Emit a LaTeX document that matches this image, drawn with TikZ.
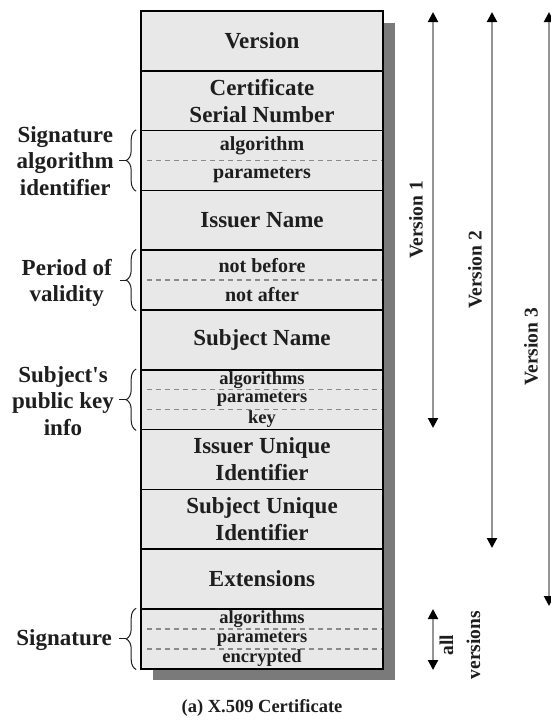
\documentclass[tikz,border=0pt]{standalone}
\usepackage{fontspec}
\setmainfont{Liberation Serif}
\usetikzlibrary{arrows.meta,decorations.pathreplacing}
\definecolor{cellgray}{HTML}{E8E8E8}
\definecolor{shadowgray}{HTML}{7A7A7A}
\definecolor{dashgray}{HTML}{8A8A8A}
\definecolor{arrowgray}{HTML}{959595}
\definecolor{ink}{HTML}{1E1E1E}
\begin{document}
\begin{tikzpicture}[x=1pt,y=-1pt,
  field/.style={draw=black, line width=1.6pt, fill=cellgray, minimum width=242pt, minimum height=59.8pt, inner sep=0pt, align=center, font=\bfseries\fontsize{23}{27}\selectfont, text=ink},
  sub/.style={inner sep=0pt, font=\bfseries\fontsize{20}{21}\selectfont, text=ink},
  subs/.style={inner sep=0pt, font=\bfseries\fontsize{18.5}{20}\selectfont, text=ink},
  dashline/.style={draw=dashgray, line width=1.4pt, dash pattern=on 5pt off 4pt},
  lbl/.style={anchor=east, align=center, inner sep=1pt, font=\bfseries\fontsize{23}{26.5}\selectfont, text=ink},
  brc/.style={decorate, decoration={brace, amplitude=10pt, aspect=0.5}, draw=ink, line width=1pt},
  brtip/.style={draw=ink, line width=1pt},
  verarrow/.style={draw=arrowgray, line width=2pt, {Triangle[length=10pt,width=10pt,color=black]}-{Triangle[length=10pt,width=10pt,color=black]}},
  vlbl/.style={rotate=90, inner sep=0pt, font=\bfseries\fontsize{19.5}{27}\selectfont, text=ink, align=center}
]
\fill[white] (0,0) rectangle (550,720);
\useasboundingbox (0,0) rectangle (550,720);

% shadow
\fill[shadowgray] (153,23) rectangle (395,680);

% rows
\node[field] (ver)   at (262,40.9)  {Version};
\node[field] (csn)   at (262,100.7) {Certificate\\Serial Number};
\node[field] (salg)  at (262,160.5) {};
\node[field] (iname) at (262,220.3) {Issuer Name};
\node[field] (per)   at (262,280.1) {};
\node[field] (sname) at (262,339.9) {Subject Name};
\node[field] (spk)   at (262,399.7) {};
\node[field] (iuid)  at (262,459.5) {Issuer Unique\\Identifier};
\node[field] (suid)  at (262,519.3) {Subject Unique\\Identifier};
\node[field] (ext)   at (262,579.1) {Extensions};
\node[field] (sig)   at (262,638.9) {};

% dashed separators
\draw[dashline] (147,160.5) -- (382,160.5);
\draw[dashline] (147,280.1) -- (382,280.1);
\draw[dashline] (147,389.7) -- (382,389.7);
\draw[dashline] (147,409.6) -- (382,409.6);
\draw[dashline] (147,628.9) -- (382,628.9);
\draw[dashline] (147,648.8) -- (382,648.8);

% sub-field texts
\node[sub] (salga) at (262,145.6) {algorithm};
\node[sub] (salgp) at (262,175.4) {parameters};
\node[sub] (pnb)   at (262,265.2) {not before};
\node[sub] (pna)   at (262,295.0) {not after};
\node[subs] (spka) at (262,379.7) {algorithms};
\node[subs] (spkp) at (262,399.7) {parameters};
\node[subs] (spkk) at (262,419.0) {key};
\node[subs] (siga) at (262,619.0) {algorithms};
\node[subs] (sigp) at (262,638.9) {parameters};
\node[subs] (sige) at (262,658.0) {encrypted};

% left braces and labels
\draw[brc] ([xshift=-4pt]salg.south west) -- ([xshift=-4pt]salg.north west);
\draw[brc] ([xshift=-4pt]per.south west) -- ([xshift=-4pt]per.north west);
\draw[brc] ([xshift=-4pt]spk.south west) -- ([xshift=-4pt]spk.north west);
\draw[brc] ([xshift=-4pt]sig.south west) -- ([xshift=-4pt]sig.north west);
\draw[brtip] ([xshift=-14pt]salg.west) -- ([xshift=-21pt]salg.west);
\draw[brtip] ([xshift=-14pt]per.west) -- ([xshift=-20pt]per.west);
\draw[brtip] ([xshift=-14pt]spk.west) -- ([xshift=-21pt]spk.west);
\draw[brtip] ([xshift=-14pt]sig.west) -- ([xshift=-21pt]sig.west);
\node[lbl] (lsalg) at (115,161) {Signature\\algorithm\\identifier};
\node[lbl] (lper)  at (113,283) {Period of\\validity};
\node[lbl] (lspk)  at (115,401) {Subject\textquotesingle s\\public key\\info};
\node[lbl] (lsig)  at (113,640) {Signature};

% version arrows
\coordinate (v1t) at (433,12);  \coordinate (v1b) at (433,428);
\coordinate (v2t) at (492,12);  \coordinate (v2b) at (492,548);
\coordinate (v3t) at (549,12);  \coordinate (v3b) at (549,606);
\coordinate (avt) at (433,609); \coordinate (avb) at (433,670);
\draw[verarrow] (v1t) -- (v1b);
\draw[verarrow] (v2t) -- (v2b);
\draw[verarrow] (v3t) -- (v3b);
\draw[verarrow] (avt) -- (avb);

\node[vlbl] (lv1) at (416,220) {Version 1};
\node[vlbl] (lv2) at (475,270) {Version 2};
\node[vlbl] (lv3) at (531,347) {Version 3};
\node[vlbl] (lav) at (460,645) {all\\versions};

% caption
\node[inner sep=0pt, font=\bfseries\fontsize{18.5}{22}\selectfont, text=ink] (cap) at (262,708) {(a) X.509 Certificate};
\end{tikzpicture}
\end{document}
